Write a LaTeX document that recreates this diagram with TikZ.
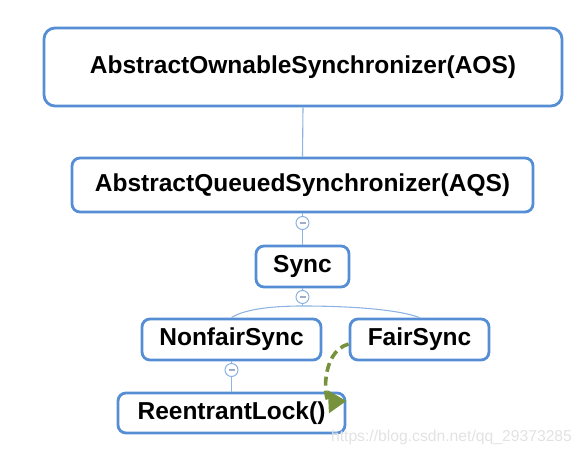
\documentclass[tikz,border=0pt]{standalone}
\usepackage{fontspec}
\setmainfont{Liberation Sans}
\usetikzlibrary{arrows.meta}
\definecolor{boxblue}{RGB}{85,142,213}
\definecolor{linkblue}{RGB}{141,180,226}
\definecolor{minusgray}{RGB}{160,172,200}
\definecolor{arrowgreen}{RGB}{118,146,60}
\definecolor{wmgray}{RGB}{226,226,226}
\begin{document}
\begin{tikzpicture}[x=1pt,y=-1pt,
  cls/.style={draw=boxblue, line width=2.8pt, fill=white, rounded corners=8pt,
    inner sep=0pt, font=\fontsize{24.5}{29}\selectfont\bfseries, text=black},
  link/.style={draw=linkblue, line width=1.1pt},
  fold/.style={circle, draw=linkblue, line width=1pt, fill=white, minimum size=13pt, inner sep=0pt,
    path picture={\draw[minusgray, line width=1.2pt] ([xshift=-3pt]path picture bounding box.center) -- ([xshift=3pt]path picture bounding box.center);}},
  dep/.style={draw=arrowgreen, line width=3.6pt, dash pattern=on 9pt off 5pt,
    -{Triangle[length=18pt,width=22pt]}}
]
\useasboundingbox (0,0) rectangle (583,458);

\node[cls, rounded corners=11pt, minimum width=518pt, minimum height=78pt] (aos) at (303,67) {AbstractOwnableSynchronizer(AOS)};
\node[cls, minimum width=461pt, minimum height=54pt] (aqs) at (302.5,185) {AbstractQueuedSynchronizer(AQS)};
\node[cls, minimum width=93pt, minimum height=41pt] (sync) at (302.5,266.5) {Sync};
\node[cls, minimum width=179pt, minimum height=41pt] (nfs) at (231.5,339.5) {NonfairSync};
\node[cls, minimum width=139pt, minimum height=41pt] (fs) at (419.5,339.5) {FairSync};
\node[cls, minimum width=227pt, minimum height=40pt] (rl) at (231.5,413) {ReentrantLock()};

\node[fold] (f1) at (302.5,223) {};
\node[fold] (f2) at (302.5,297) {};
\node[fold] (f3) at (231.5,370) {};
\coordinate (j) at (302.5,306);

\draw[link] (aos.south) -- (aqs.north);
\draw[link] (aqs.south) -- (f1.north);
\draw[link] (f1.south) -- (sync.north);
\draw[link] (sync.south) -- (f2.north);
\draw[link] (f2.south) -- (j);
\draw[link] (j) .. controls (268,306) and (243,310) .. (nfs.north);
\draw[link] (j) .. controls (355,306) and (400,310) .. (fs.north);
\draw[link] (nfs.south) -- (f3.north);
\draw[link] (f3.south) -- (rl.north);

\draw[dep] (fs.west |- 0,344) .. controls (320,352) and (324,402) .. (rl.east |- 0,401);

\node[font=\fontsize{15.7}{18}\selectfont, text=wmgray, inner sep=0pt] (wm) at (451.5,437) {https://blog.csdn.net/qq\_29373285};
\end{tikzpicture}
\end{document}
